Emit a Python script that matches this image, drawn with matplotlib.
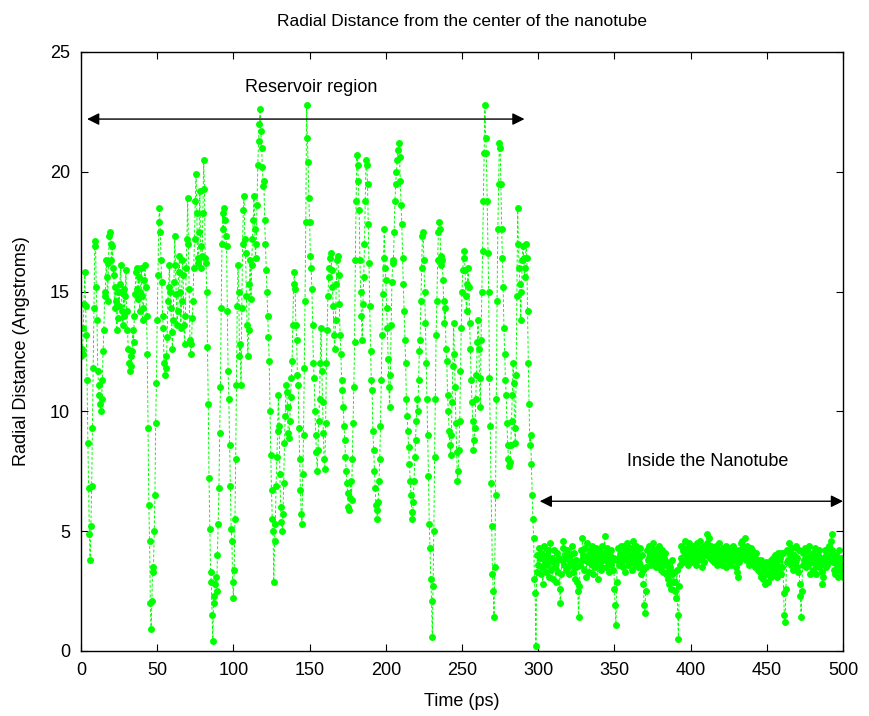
import numpy as np
import matplotlib
matplotlib.use("Agg")
import matplotlib.pyplot as plt

plt.rcParams['font.family'] = ['Liberation Sans', 'DejaVu Sans']

# Radial distance (Angstroms), sampled every 0.5 ps
# reservoir part, 0 - 299.5 ps
reservoir = [
    12.3, 12.6, 12.4, 13.5, 14.5, 15.8, 14.4, 13.2, 11.3, 8.7,
    6.8, 4.9, 3.8, 5.2, 6.9, 9.3, 11.8, 14.3, 16.9, 17.1,
    15.2, 13.8, 11.7, 11.1, 10.7, 10.3, 10.0, 10.5, 11.3, 12.5,
    13.4, 14.8, 15.0, 16.3, 15.6, 14.6, 16.2, 17.3, 17.5, 17.0,
    16.3, 16.9, 16.0, 15.7, 14.3, 15.2, 14.6, 13.4, 13.9, 15.0,
    14.4, 15.3, 16.1, 15.0, 14.2, 13.6, 15.1, 14.0, 14.8, 15.9,
    14.2, 13.4, 12.6, 12.0, 11.7, 12.3, 11.9, 12.5, 13.4, 12.9,
    14.0, 14.9, 15.8, 16.0, 15.1, 14.7, 15.6, 14.2, 15.0, 16.0,
    14.8, 13.8, 14.3, 15.5, 16.1, 15.2, 14.0, 12.4, 9.3, 6.1,
    4.6, 2.0, 0.9, 2.1, 3.5, 3.3, 5.0, 6.5, 9.5, 11.2,
    13.8, 15.7, 17.9, 18.5, 17.5, 16.3, 15.4, 14.0, 13.5, 12.0,
    11.5, 12.3, 11.8, 13.1, 14.6, 15.2, 16.1, 15.0, 14.3, 13.3,
    12.6, 13.8, 15.4, 17.3, 16.1, 14.9, 13.6, 14.2, 15.8, 16.5,
    15.0, 13.5, 14.6, 16.3, 15.7, 13.6, 12.8, 14.0, 16.0, 17.2,
    18.9, 17.0, 15.1, 13.0, 12.4, 12.8, 13.9, 14.6, 16.0, 17.2,
    18.8, 19.9, 18.3, 16.4, 16.2, 17.5, 19.2, 16.9, 16.0, 16.5,
    18.3, 20.5, 19.3, 16.4, 16.2, 15.0, 12.7, 10.3, 7.2, 5.1,
    3.3, 2.9, 1.5, 0.4, 2.3, 2.0, 2.8, 3.1, 2.5, 4.0,
    5.3, 6.8, 9.1, 11.0, 14.3, 17.0, 18.3, 17.6, 18.5, 18.0,
    17.3, 16.9, 14.2, 11.7, 10.5, 8.6, 6.9, 5.1, 4.6, 2.9,
    2.2, 3.4, 5.5, 8.0, 11.1, 14.4, 16.1, 15.0, 12.3, 12.8,
    11.1, 14.3, 17.0, 18.4, 19.0, 17.2, 16.6, 14.8, 13.6, 12.3,
    13.4, 15.3, 16.3, 14.7, 16.1, 17.2, 18.0, 19.0, 17.6, 16.4,
    17.0, 18.6, 20.3, 21.3, 22.0, 22.6, 21.7, 21.0, 20.2, 19.4,
    19.6, 18.0, 17.0, 15.9, 15.0, 14.0, 13.1, 12.1, 10.0, 8.2,
    6.7, 5.5, 5.0, 2.9, 4.6, 5.3, 6.9, 8.1, 9.2, 10.7,
    9.4, 7.4, 6.0, 5.4, 5.0, 5.7, 7.0, 8.7, 9.8, 11.1,
    10.8, 10.2, 9.1, 8.9, 9.6, 10.6, 11.4, 12.1, 13.6, 15.3,
    15.8, 15.1, 13.6, 13.0, 11.5, 11.1, 9.3, 8.0, 6.7, 5.7,
    5.3, 7.4, 9.0, 11.8, 14.6, 17.9, 22.8, 21.4, 20.4, 18.9,
    17.9, 16.5, 16.0, 15.1, 13.6, 12.0, 11.4, 10.0, 9.0, 8.3,
    7.5, 8.4, 9.6, 10.5, 12.0, 13.5, 11.7, 10.4, 9.1, 8.0,
    7.6, 9.5, 12.0, 13.4, 14.8, 15.6, 16.0, 16.4, 16.6, 15.9,
    15.2, 14.4, 13.2, 12.6, 13.8, 15.3, 16.3, 16.5, 15.7, 14.5,
    13.2, 12.4, 11.3, 10.9, 10.2, 9.4, 8.8, 8.1, 7.5, 7.0,
    6.6, 6.0, 5.9, 6.4, 7.1, 6.3, 8.0, 9.5, 11.0, 12.9,
    16.3, 18.8, 20.7, 20.3, 19.6, 18.4, 16.3, 15.0, 14.0, 13.0,
    14.5, 15.6, 17.0, 18.8, 20.5, 20.3, 19.5, 17.8, 16.2, 14.4,
    12.5, 11.3, 10.9, 9.2, 8.4, 7.5, 6.8, 6.1, 5.9, 5.5,
    6.2, 7.1, 8.0, 9.4, 11.3, 13.2, 14.9, 16.4, 17.6, 16.0,
    15.5, 14.3, 13.5, 12.2, 11.0, 10.2, 11.5, 13.6, 15.4, 16.2,
    16.3, 17.5, 18.8, 19.5, 20.0, 20.5, 20.9, 21.2, 20.6, 19.6,
    18.6, 17.8, 16.4, 15.3, 14.2, 13.0, 12.0, 10.5, 9.8, 9.2,
    8.5, 7.8, 7.1, 6.5, 5.8, 5.5, 6.2, 7.1, 8.1, 8.8,
    9.6, 10.5, 10.0, 11.3, 12.5, 13.0, 14.6, 16.0, 17.3, 17.5,
    16.3, 15.0, 13.7, 12.0, 10.5, 9.0, 7.3, 5.3, 4.3, 3.0,
    2.1, 0.6, 2.7, 5.0, 8.1, 10.5, 13.2, 14.6, 16.3, 17.5,
    17.9, 17.6, 16.5, 16.1, 16.3, 15.5, 14.6, 13.7, 14.3, 12.6,
    12.1, 10.7, 10.0, 9.2, 8.6, 8.2, 9.0, 10.4, 11.9, 13.7,
    12.4, 11.0, 9.5, 8.3, 7.1, 7.5, 8.4, 9.6, 11.7, 13.5,
    15.0, 15.9, 16.4, 16.7, 15.9, 14.8, 14.2, 15.3, 16.0, 15.2,
    13.7, 12.6, 11.3, 10.4, 9.6, 8.4, 8.8, 9.3, 10.5, 11.5,
    12.9, 13.8, 12.6, 11.4, 10.2, 13.0, 15.0, 16.7, 18.8, 20.8,
    22.8, 21.4, 20.8, 18.8, 16.6, 15.0, 11.4, 9.4, 7.0, 5.2,
    3.2, 2.5, 1.4, 3.5, 6.5, 10.5, 14.6, 17.6, 19.5, 21.2,
    21.0, 19.5, 17.6, 16.4, 15.2, 13.5, 12.4, 11.3, 10.7, 9.5,
    8.6, 8.0, 7.7, 7.9, 8.6, 9.6, 10.7, 12.0, 11.2, 9.3,
    8.7, 11.5, 14.8, 18.5, 17.0, 16.0, 15.3, 13.8, 15.0, 16.3,
    16.9, 16.4, 15.6, 16.0, 17.0, 16.4, 14.2, 12.0, 10.3, 8.6,
    9.0, 7.8, 6.5, 5.5, 4.7, 3.0, 2.4, 0.2, 3.3, 4.0,
]

# inside the nanotube, 300 - 500 ps
nanotube = [
    3.6, 4.3, 3.9, 3.2, 4.1, 3.5, 2.8, 3.9, 4.4, 3.7,
    3.3, 4.0, 3.6, 4.2, 3.1, 3.8, 4.5, 3.4, 3.9, 3.0,
    3.7, 4.2, 3.5, 2.9, 3.8, 4.1, 3.3, 3.9, 2.6, 2.0,
    3.2, 3.8, 4.3, 4.6, 3.6, 4.0, 3.4, 3.9, 4.2, 3.5,
    3.9, 3.2, 4.0, 3.7, 4.4, 3.3, 3.6, 4.1, 3.0, 3.8,
    3.5, 2.9, 2.5, 1.4, 2.7, 3.6, 4.2, 3.8, 4.7, 4.0,
    3.4, 4.3, 3.9, 3.1, 4.5, 3.7, 4.0, 3.3, 4.2, 3.8,
    4.4, 3.6, 3.2, 3.9, 4.1, 3.5, 4.3, 3.7, 3.0, 3.9,
    4.2, 3.6, 4.0, 3.4, 4.4, 3.8, 4.1, 4.8, 3.9, 3.5,
    4.3, 3.7, 4.1, 3.3, 4.0, 3.6, 4.2, 3.8, 3.4, 3.9,
    2.6, 1.9, 1.1, 2.9, 3.8, 4.3, 3.6, 4.0, 4.4, 3.7,
    4.1, 3.5, 4.4, 3.9, 3.3, 4.2, 3.8, 4.5, 3.6, 4.0,
    3.7, 4.3, 4.0, 3.4, 4.6, 3.9, 4.2, 3.6, 4.4, 3.8,
    4.1, 3.5, 3.9, 4.3, 3.6, 3.2, 4.0, 3.4, 2.8, 1.9,
    1.6, 2.5, 3.5, 4.2, 3.8, 4.4, 3.9, 4.1, 3.6, 4.3,
    3.9, 4.5, 4.0, 3.7, 4.2, 3.5, 4.1, 3.8, 4.4, 3.6,
    4.0, 3.4, 4.2, 3.8, 3.3, 3.9, 4.1, 3.6, 3.2, 3.7,
    3.0, 3.4, 2.8, 3.5, 2.6, 3.2, 3.8, 2.9, 3.3, 2.5,
    2.9, 2.2, 3.4, 1.5, 0.5, 2.7, 3.6, 3.9, 4.4, 3.8,
    4.2, 3.7, 4.6, 4.0, 3.9, 4.3, 3.6, 4.1, 4.5, 3.8,
    4.2, 4.0, 3.7, 4.4, 3.9, 4.3, 4.1, 3.6, 4.5, 4.0,
    3.8, 4.2, 4.6, 3.9, 4.3, 3.5, 4.1, 4.4, 3.7, 4.2,
    4.0, 4.5, 4.9, 4.3, 4.7, 3.9, 4.2, 4.4, 3.8, 4.1,
    4.3, 3.7, 4.0, 4.4, 3.6, 4.2, 3.9, 4.5, 4.1, 3.8,
    4.2, 3.6, 4.0, 4.3, 3.8, 4.1, 3.5, 4.4, 3.9, 4.2,
    3.7, 4.0, 4.3, 3.6, 4.1, 3.9, 4.4, 3.8, 4.2, 3.5,
    4.0, 3.3, 3.1, 3.7, 4.2, 3.9, 4.5, 4.1, 4.6, 4.3,
    3.9, 4.7, 4.2, 3.8, 4.4, 4.0, 3.6, 4.1, 3.8, 4.3,
    3.9, 4.2, 3.7, 4.0, 3.5, 3.9, 4.1, 3.6, 3.4, 3.8,
    3.6, 3.3, 3.8, 3.1, 3.6, 3.0, 3.5, 2.8, 3.3, 3.7,
    3.2, 3.6, 2.9, 3.6, 3.3, 3.1, 3.8, 3.4, 3.9, 3.2,
    3.6, 4.0, 3.3, 3.8, 3.1, 4.1, 3.5, 3.9, 3.2, 4.1,
    3.5, 4.1, 2.4, 1.5, 1.2, 2.6, 3.7, 4.2, 3.8, 4.5,
    3.9, 4.1, 3.6, 4.3, 3.8, 3.4, 4.0, 3.7, 4.4, 3.5,
    3.9, 3.3, 4.2, 2.8, 2.3, 1.4, 2.5, 3.6, 4.1, 3.8,
    4.3, 3.5, 3.9, 4.2, 3.6, 4.4, 3.8, 3.2, 4.0, 3.7,
    4.1, 3.4, 3.9, 4.3, 3.6, 3.2, 3.8, 4.0, 3.5, 4.2,
    3.6, 3.9, 3.3, 2.8, 3.1, 3.7, 4.2, 3.5, 4.0, 3.6,
    4.3, 3.8, 4.4, 4.0, 4.6, 4.9, 4.2, 3.7, 3.4, 3.9,
    3.2, 4.0, 3.6, 3.1, 3.8, 4.2, 3.4, 3.9, 3.3, 3.6,
    3.1,
]

distance = np.array(reservoir + nanotube)
time_ps = np.arange(len(distance)) * 0.5

fig = plt.figure(figsize=(8.7, 7.16), dpi=100)
ax = fig.add_axes([0.0931, 0.0908, 0.8759, 0.8366])

ax.plot(time_ps, distance, color=(0, 1, 0), linestyle='--', linewidth=0.7,
        marker='o', markersize=5.0, markeredgewidth=0, dashes=(3, 2))

ax.set_xlim(0, 500)
ax.set_ylim(0, 25)
ax.set_xticks(np.arange(0, 501, 50))
ax.set_yticks(np.arange(0, 26, 5))
ax.tick_params(direction='in', top=True, right=True, labelsize=13, length=5, pad=8)
for s in ax.spines.values():
    s.set_linewidth(1.0)

ax.set_xlabel("Time (ps)", fontsize=13, labelpad=10)
ax.set_ylabel("Radial Distance (Angstroms)", fontsize=13, labelpad=14)
ax.set_title("Radial Distance from the center of the nanotube", fontsize=12.5, pad=19)

# region arrows
arrow = dict(arrowstyle='<|-|>', color='black', lw=1.0, mutation_scale=18,
             shrinkA=0, shrinkB=0)
ax.annotate('', xy=(291, 22.2), xytext=(4, 22.2), arrowprops=arrow)
ax.text(151, 23.5, "Reservoir region", ha='center', va='center', fontsize=13)
ax.annotate('', xy=(500, 6.25), xytext=(301, 6.25), arrowprops=arrow)
ax.text(411, 7.9, "Inside the Nanotube", ha='center', va='center', fontsize=13)

fig.savefig("out.png", dpi=100)
